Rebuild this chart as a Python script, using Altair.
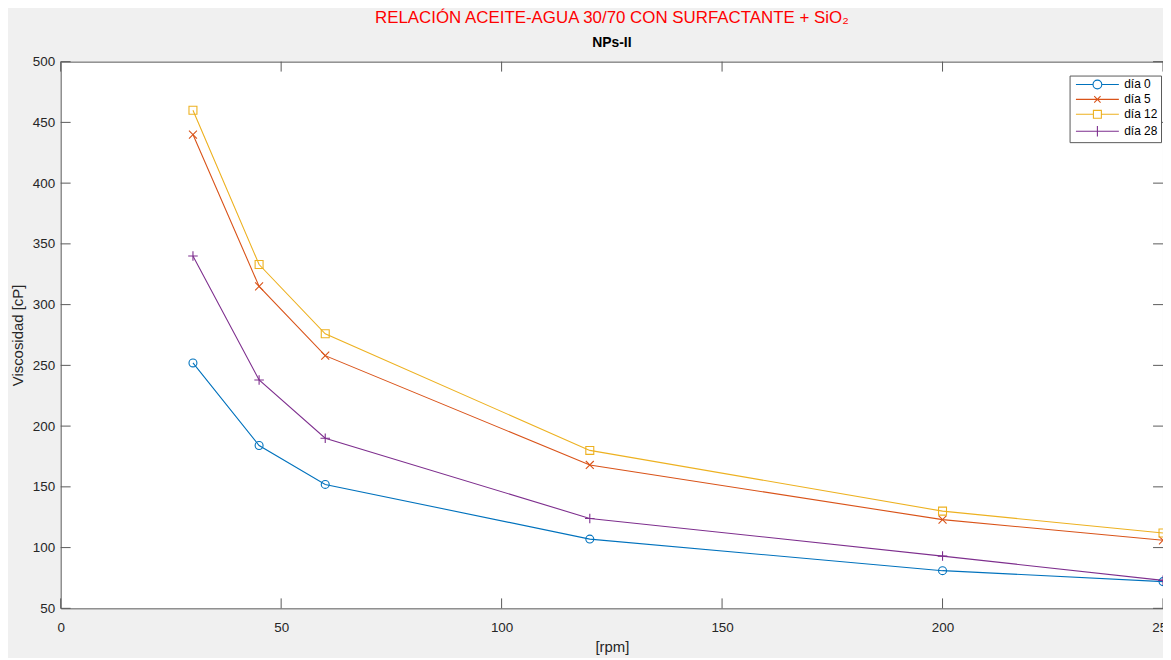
import altair as alt
import pandas as pd

rpm = [30, 45, 60, 120, 200, 250]
series = ["día 0", "día 5", "día 12", "día 28"]
dia0 = [252, 184, 152, 107, 81, 72]
dia5 = [440, 315, 258, 168, 123, 106]
dia12 = [460, 333, 276, 180, 130, 112]
dia28 = [340, 238, 190, 124, 93, 73]
colors = ["#0072BD", "#D95319", "#EDB120", "#7E2F8E"]
x_ticks = [0, 50, 100, 150, 200, 250]
y_ticks = [50, 100, 150, 200, 250, 300, 350, 400, 450, 500]

values = [dia0, dia5, dia12, dia28]
rows = []
for s, vals in zip(series, values):
    for x, v in zip(rpm, vals):
        rows.append({"rpm": x, "visc": v, "serie": s})
df = pd.DataFrame(rows)
leg_df = pd.DataFrame({"serie": series})
xt_df = pd.DataFrame({"rpm": x_ticks})
yt_df = pd.DataFrame({"visc": y_ticks})

W, H = 1109, 550
TL = 10
FONT = "Liberation Sans"
AX = "#262626"
FRAME = "#5a5a5a"

marker_paths = [
    "circle",
    "M-1,-1L1,1M-1,1L1,-1",
    "M-1,-1H1V1H-1Z",
    "M-1.2,0H1.2M0,-1.2V1.2",
]
legend_paths = [
    "M-5.4,0H-1.1M1.1,0H5.4M-1.1,0A1.1,1.1 0 1,0 1.1,0A1.1,1.1 0 1,0 -1.1,0",
    "M-5.4,0H5.4M-0.8,-0.8L0.8,0.8M-0.8,0.8L0.8,-0.8",
    "M-5.4,0H-1M1,0H5.4M-1,-1H1V1H-1Z",
    "M-5.4,0H5.4M0,-1.3V1.3",
]

xscale = alt.Scale(domain=[0, 250], nice=False, zero=False)
yscale = alt.Scale(domain=[50, 500], nice=False, zero=False)
cscale = alt.Scale(domain=series, range=colors)

xaxis = alt.Axis(values=x_ticks, title="[rpm]", ticks=False, domain=False, grid=False,
                 labelFlush=False, labelPadding=12, titlePadding=6)
yaxis = alt.Axis(values=y_ticks, title="Viscosidad [cP]", ticks=False, domain=False, grid=False,
                 labelFlush=False, labelPadding=6, titlePadding=7)

base = alt.Chart(df)
lines = base.mark_line(strokeWidth=1.1, clip=True).encode(
    x=alt.X("rpm:Q", scale=xscale, axis=xaxis),
    y=alt.Y("visc:Q", scale=yscale, axis=yaxis),
    color=alt.Color("serie:N", scale=cscale, legend=None),
    order=alt.Order("rpm:Q"),
)
points = base.mark_point(size=64, strokeWidth=1.1, filled=False, clip=True, opacity=1).encode(
    x=alt.X("rpm:Q", scale=xscale),
    y=alt.Y("visc:Q", scale=yscale),
    color=alt.Color("serie:N", scale=cscale, legend=None),
    shape=alt.Shape("serie:N", scale=alt.Scale(domain=series, range=marker_paths), legend=None),
)
legend_layer = alt.Chart(leg_df).mark_point(size=64, strokeWidth=1.1, filled=False, clip=True, opacity=1).encode(
    x=alt.value(-300),
    y=alt.value(-300),
    color=alt.Color("serie:N", scale=cscale, legend=alt.Legend(
        title=None, orient="none", legendX=1015, legendY=14,
        fillColor="white", strokeColor=FRAME, padding=3,
        symbolOffset=19, labelOffset=21, rowPadding=2, symbolSize=64,
        labelFont=FONT, labelFontSize=12, labelColor="#000000", symbolStrokeWidth=1.1)),
    shape=alt.Shape("serie:N", scale=alt.Scale(domain=series, range=legend_paths), legend=alt.Legend(
        title=None, orient="none", legendX=1015, legendY=14)),
)

tick_style = dict(color=FRAME, strokeWidth=1)
xt_bottom = alt.Chart(xt_df).mark_rule(**tick_style).encode(
    x=alt.X("rpm:Q", scale=xscale), y=alt.value(H), y2=alt.value(H - TL))
xt_top = alt.Chart(xt_df).mark_rule(**tick_style).encode(
    x=alt.X("rpm:Q", scale=xscale), y=alt.value(0), y2=alt.value(TL))
yt_left = alt.Chart(yt_df).mark_rule(**tick_style).encode(
    y=alt.Y("visc:Q", scale=yscale), x=alt.value(0), x2=alt.value(TL))
yt_right = alt.Chart(yt_df).mark_rule(**tick_style).encode(
    y=alt.Y("visc:Q", scale=yscale), x=alt.value(W), x2=alt.value(W - TL))

chart = alt.layer(
    xt_bottom, xt_top, yt_left, yt_right, lines, points, legend_layer
).resolve_scale(
    color="independent", shape="independent"
).properties(
    width=W, height=H,
    autosize=alt.AutoSizeParams(type="none"),
    padding={"left": 53, "top": 52, "right": 0, "bottom": 48},
    title=alt.TitleParams(
        text="RELACIÓN ACEITE-AGUA 30/70 CON SURFACTANTE + SiO₂",
        subtitle="NPs-II",
        color="#FF0000", font=FONT, fontSize=17, fontWeight="normal",
        subtitleFont=FONT, subtitleFontSize=14, subtitleFontWeight="bold",
        subtitleColor="#000000", subtitlePadding=9,
        anchor="middle", offset=4,
    ),
).configure(
    background="#F0F0F0",
).configure_view(
    fill="white", stroke=FRAME, strokeWidth=1,
).configure_axis(
    labelFont=FONT, labelFontSize=13.5, labelColor=AX,
    titleFont=FONT, titleFontSize=15, titleColor=AX, titleFontWeight="normal",
)

chart.save("out.html", embed_options={"renderer": "svg", "actions": False})
